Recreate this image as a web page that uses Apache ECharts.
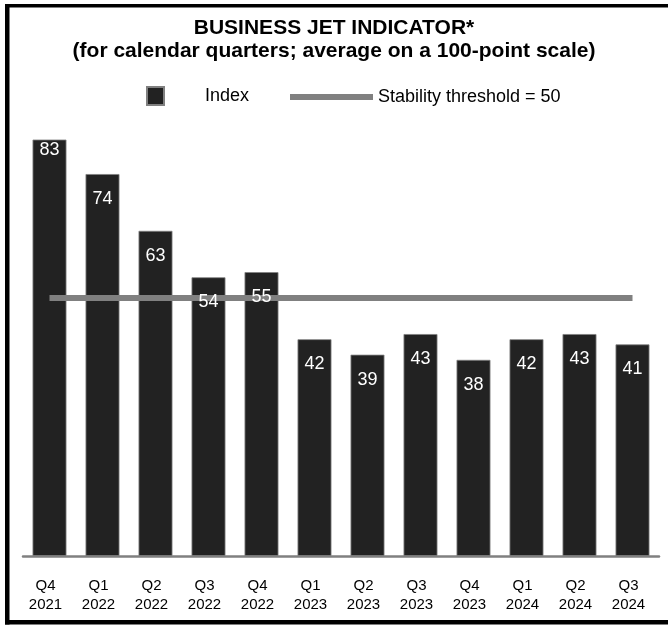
<!DOCTYPE html>
<html>
<head>
<meta charset="utf-8">
<script src="https://cdn.jsdelivr.net/npm/echarts@6/dist/echarts.min.js"></script>
<style>
  html, body { margin: 0; padding: 0; background: #fff; }
  #chart { width: 668px; height: 627px; }
</style>
</head>
<body>
<div id="chart"></div>
<script>
const titleText = 'BUSINESS JET INDICATOR*\n(for calendar quarters; average on a 100-point scale)';
const categories = ['Q4\n2021', 'Q1\n2022', 'Q2\n2022', 'Q3\n2022', 'Q4\n2022', 'Q1\n2023',
                    'Q2\n2023', 'Q3\n2023', 'Q4\n2023', 'Q1\n2024', 'Q2\n2024', 'Q3\n2024'];
const indexValues = [83, 74, 63, 54, 55, 42, 39, 43, 38, 42, 43, 41];
const thresholdValues = [50, 50, 50, 50, 50, 50, 50, 50, 50, 50, 50, 50];
const seriesNames = ['Index', 'Stability threshold = 50'];

const FONT = "'Liberation Sans', Arial, Helvetica, sans-serif";
const chart = echarts.init(document.getElementById('chart'), null, { renderer: 'canvas' });

const labelData = indexValues.map((v, i) => {
  const item = { value: v };
  if (i === 0) item.label = { distance: 1 };
  return item;
});

chart.setOption({
  backgroundColor: '#ffffff',
  animation: false,
  textStyle: { fontFamily: FONT },
  title: {
    text: titleText,
    left: 'center',
    top: 17,
    padding: 0,
    textStyle: { fontFamily: FONT, fontSize: 21, fontWeight: 'bold', color: '#000', lineHeight: 23 }
  },
  legend: [
    {
      data: [seriesNames[0]],
      left: 146, top: 86,
      padding: 0,
      itemWidth: 17, itemHeight: 18,
      icon: 'rect',
      selectedMode: false,
      textStyle: { fontFamily: FONT, fontSize: 18, color: '#000', padding: [0, 0, 0, 36] }
    },
    {
      data: [{ name: seriesNames[1], icon: 'rect' }],
      left: 290, top: 88,
      padding: 0,
      itemWidth: 83, itemHeight: 6,
      selectedMode: false,
      itemStyle: { color: '#808080', borderWidth: 0 },
      textStyle: { fontFamily: FONT, fontSize: 18, color: '#000' }
    }
  ],
  grid: { left: 23, right: 9, top: 140, bottom: 71, containLabel: false },
  xAxis: {
    type: 'category',
    data: categories,
    boundaryGap: true,
    axisLine: { show: true, lineStyle: { color: '#808080', width: 2.5 } },
    axisTick: { show: false },
    axisLabel: {
      interval: 0,
      margin: 20,
      fontFamily: FONT,
      fontSize: 15,
      lineHeight: 19,
      color: '#000',
      padding: [0, 8, 0, 0]
    }
  },
  yAxis: {
    type: 'value',
    min: 0,
    max: 80.6,
    show: false,
    splitLine: { show: false }
  },
  series: [
    {
      name: seriesNames[0],
      type: 'bar',
      data: indexValues,
      barCategoryGap: '36%',
      barGap: '-100%',
      clip: true,
      itemStyle: { color: '#222222', borderColor: '#808080', borderWidth: 0.8 },
      label: { show: false },
      z: 2
    },
    {
      name: seriesNames[1],
      type: 'line',
      data: thresholdValues,
      symbol: 'none',
      lineStyle: { color: '#808080', width: 6 },
      itemStyle: { color: '#808080' },
      z: 3
    },
    {
      name: 'Index labels',
      type: 'bar',
      data: labelData,
      barCategoryGap: '36%',
      barGap: '-100%',
      clip: true,
      silent: true,
      itemStyle: { color: 'rgba(0,0,0,0)' },
      label: {
        show: true,
        position: 'insideTop',
        distance: 16,
        color: '#ffffff',
        fontFamily: FONT,
        fontSize: 18
      },
      z: 4
    }
  ],
  graphic: [
    { type: 'rect', shape: { x: 5, y: 4, width: 663, height: 3.5 }, style: { fill: '#000' }, silent: true },
    { type: 'rect', shape: { x: 5, y: 4, width: 4.5, height: 620.5 }, style: { fill: '#000' }, silent: true },
    { type: 'rect', shape: { x: 5, y: 620, width: 663, height: 4.5 }, style: { fill: '#000' }, silent: true }
  ]
});
</script>
</body>
</html>
